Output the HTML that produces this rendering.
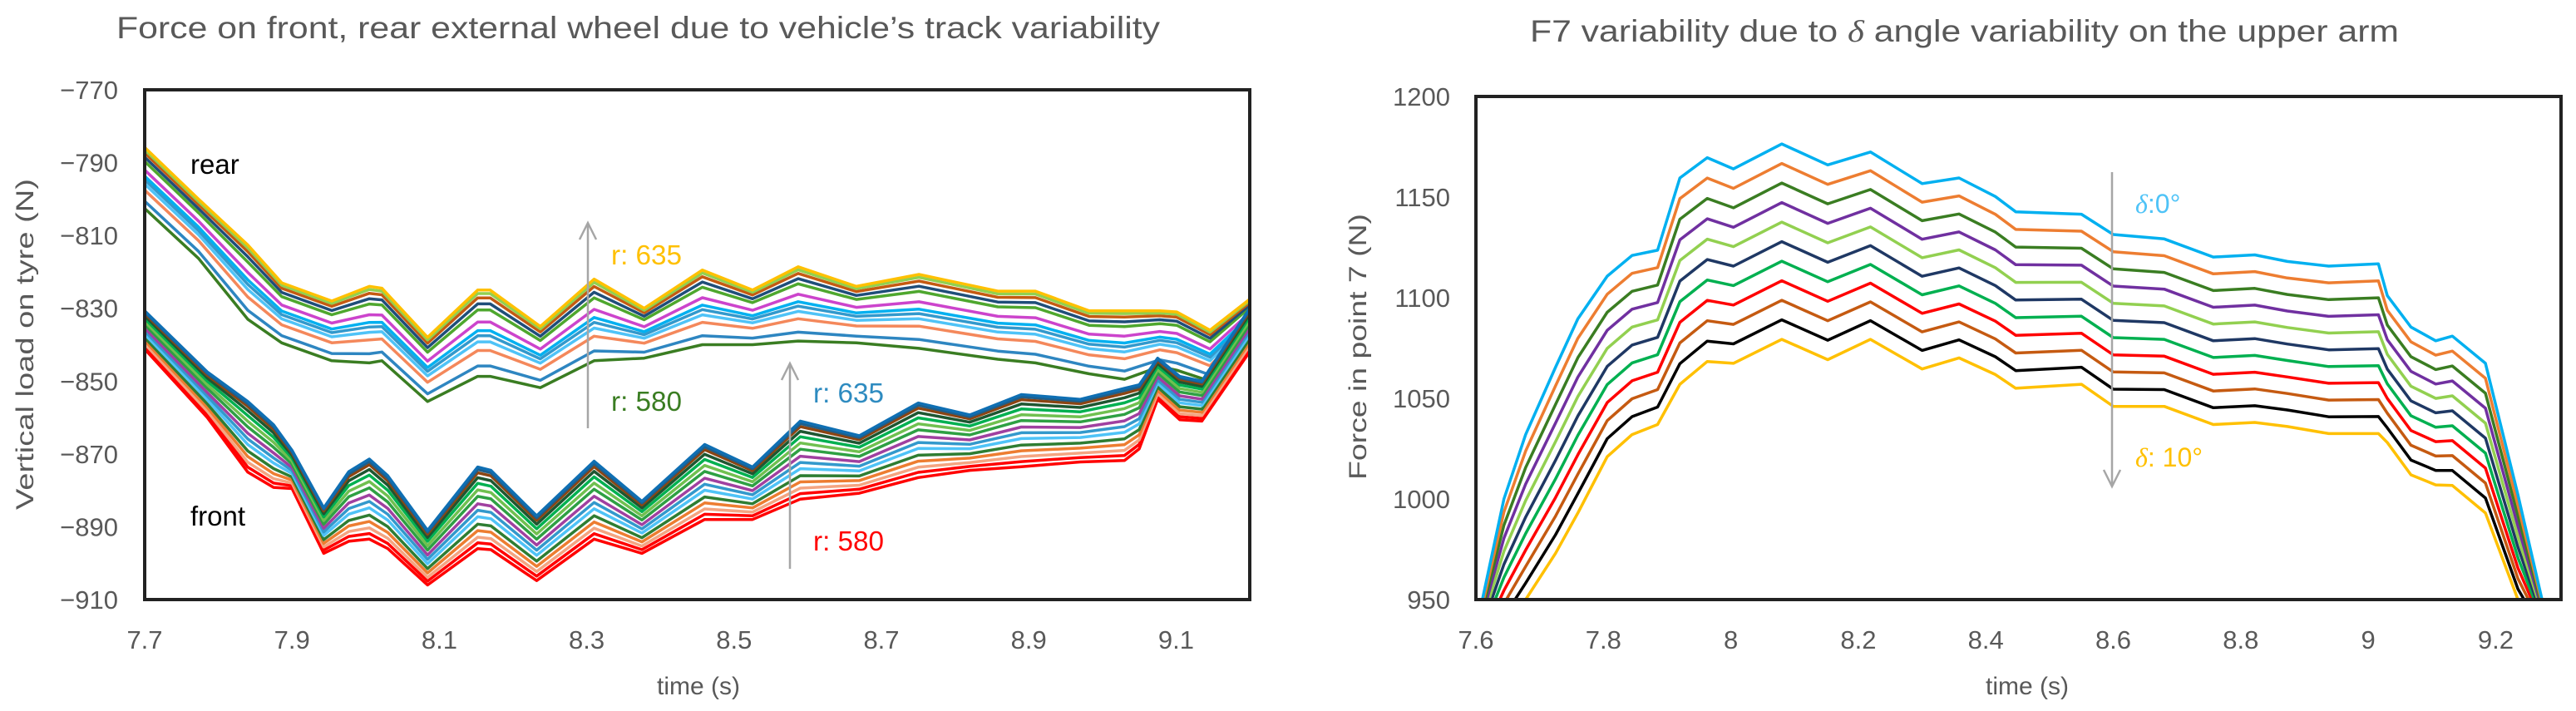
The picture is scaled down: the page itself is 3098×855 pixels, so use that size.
<!DOCTYPE html>
<html><head><meta charset="utf-8">
<style>
html,body{margin:0;padding:0;background:#fff;}
svg{display:block;font-family:"Liberation Sans",sans-serif;}
.tick{font-size:31px;fill:#595959;}
.ttl{font-size:37px;fill:#595959;}
.ax{font-size:30px;fill:#595959;}
</style></head>
<body>
<svg id="svg" width="3098" height="855" viewBox="0 0 3098 855" xmlns="http://www.w3.org/2000/svg">
<defs>
<clipPath id="clipL"><rect x="174" y="108" width="1329" height="613"/></clipPath>
<clipPath id="clipR"><rect x="1775" y="116" width="1305" height="605"/></clipPath>
</defs>
<rect width="3098" height="855" fill="#fff"/>
<text class="ttl" x="140" y="46" textLength="1255" lengthAdjust="spacingAndGlyphs">Force on front, rear external wheel due to vehicle’s track variability</text>
<text class="ttl" x="1840" y="50" textLength="1045" lengthAdjust="spacingAndGlyphs">F7 variability due to <tspan font-family="Liberation Serif,serif" font-style="italic">δ</tspan> angle variability on the upper arm</text>
<text class="ax" transform="translate(40,414) rotate(-90)" text-anchor="middle" textLength="398" lengthAdjust="spacingAndGlyphs">Vertical load on tyre (N)</text>
<text class="ax" x="840" y="835" text-anchor="middle" font-size="34">time (s)</text>
<text class="ax" transform="translate(1643,417) rotate(-90)" text-anchor="middle" textLength="320" lengthAdjust="spacingAndGlyphs">Force in point 7 (N)</text>
<text class="ax" x="2438" y="835" text-anchor="middle" font-size="34">time (s)</text>
<g id="L" clip-path="url(#clipL)"></g>
<g id="R" clip-path="url(#clipR)"></g>
<g id="ticks"></g>
<rect x="174" y="108" width="1329" height="613" fill="none" stroke="#222" stroke-width="4"/>
<rect x="1775" y="116" width="1305" height="605" fill="none" stroke="#222" stroke-width="4"/>
<g stroke="#a6a6a6" stroke-width="2.5" fill="none">
<path d="M707 515 L707 268 M697 288 L707 268 L717 288"/>
<path d="M950 684 L950 437 M940 457 L950 437 L960 457"/>
<path d="M2540 207 L2540 585 M2530 565 L2540 585 L2550 565"/>
</g>
<text x="229" y="209" font-size="33" fill="#000">rear</text>
<text x="229" y="632" font-size="33" fill="#000">front</text>
<text x="735" y="318" font-size="33" fill="#FFC000" textLength="85" lengthAdjust="spacingAndGlyphs">r: 635</text>
<text x="735" y="494" font-size="33" fill="#3A7D22" textLength="85" lengthAdjust="spacingAndGlyphs">r: 580</text>
<text x="978" y="484" font-size="33" fill="#2E8BC0" textLength="85" lengthAdjust="spacingAndGlyphs">r: 635</text>
<text x="978" y="662" font-size="33" fill="#FF0000" textLength="85" lengthAdjust="spacingAndGlyphs">r: 580</text>
<text x="2568" y="256" font-size="32" fill="#4FC3F7"><tspan font-family="Liberation Serif,serif" font-style="italic">δ</tspan>:0°</text>
<text x="2568" y="561" font-size="32" fill="#FFC000"><tspan font-family="Liberation Serif,serif" font-style="italic">δ</tspan>: 10°</text>
</svg>
<script>
// ---- left chart data ----
const rearTimes = [7.7,7.773,7.84,7.886,7.954,8.005,8.022,8.084,8.152,8.169,8.237,8.31,8.378,8.457,8.525,8.587,8.666,8.751,8.858,8.909,8.982,9.03,9.078,9.101,9.146,9.2];
const rearTop = [-785.8,-800,-812.6,-823,-828,-824,-824.5,-838,-825,-825,-835,-822,-830,-819.5,-825,-818.6,-824,-820.7,-825.3,-825.3,-830.7,-830.7,-830.7,-831,-836,-827.5];
const rearBottom = [-802.6,-816.3,-833,-839.5,-844.4,-845,-844.4,-855.6,-848.7,-848.7,-851.8,-844.4,-843.7,-840,-840,-839,-839.5,-841,-844,-845,-848,-849.5,-846,-847,-850,-837.5];
const rearWeights = [1,0.96,0.91,0.84,0.77,0.63,0.53,0.47,0.40,0.30,0.12,0];
const rearColors = ["#FFC000","#92D050","#C55A11","#1F4E79","#4EA72E","#CC44CC","#00B0F0","#3399CC","#4FC3F7","#F4885B","#2E86C1","#3A7D22"];
const frontTimes = [7.7,7.785,7.84,7.875,7.9,7.943,7.977,8.005,8.03,8.084,8.152,8.17,8.232,8.31,8.375,8.46,8.525,8.59,8.67,8.75,8.82,8.89,8.97,9.03,9.05,9.075,9.105,9.135,9.2];
const frontTop = [-830.7,-847.5,-855.6,-862,-869,-884.8,-874.9,-871.4,-876,-891,-873.6,-874.5,-887,-872,-883,-867.4,-873.6,-861,-865,-856,-859.3,-853.7,-855,-852,-851,-843.7,-848.7,-850,-830];
const frontBottom = [-841.2,-860,-875,-879.2,-879.5,-897.3,-894,-893.4,-896,-906,-896,-896.3,-904.8,-893.4,-897.3,-888,-888,-882.4,-880.8,-876.5,-874.5,-873.5,-872.2,-871.8,-868.6,-855,-860.6,-861,-841.9];
const frontWeights = [1,0.97,0.93,0.87,0.8,0.72,0.64,0.55,0.47,0.39,0.3,0.22,0.14,0.07,0];
const frontColors = ["#0F6FB3","#1F5F8B","#8B4513","#1E5631","#00B050","#70C050","#2EA043","#A040A0","#3399CC","#4FC3F7","#2E7D32","#ED7D31","#F4A582","#FF0000","#FF0000"];
const leftYTicks = [-770,-790,-810,-830,-850,-870,-890,-910];
const leftXTicks = ["7.7","7.9","8.1","8.3","8.5","8.7","8.9","9.1"];
// ---- right chart data ----
const rTimes = [7.6,7.644,7.678,7.725,7.76,7.806,7.845,7.885,7.92,7.963,8.004,8.08,8.152,8.219,8.3,8.358,8.415,8.447,8.55,8.6,8.68,8.757,8.822,8.873,8.938,9.016,9.03,9.067,9.106,9.132,9.184,9.235,9.28];
const rTop = [935,1000,1032,1065.5,1089.5,1110.7,1121,1123.6,1159.5,1169.6,1164,1176.4,1166,1172.4,1156.7,1159.5,1150.3,1142.7,1141.5,1131.4,1129.2,1120.2,1121.3,1118,1115.7,1116.8,1101,1085.4,1078.6,1080.9,1067.4,1002,940];
const rBottom = [920,935,950,973,993,1021,1032,1037,1057,1068.3,1067.4,1079.3,1069.2,1079.3,1064.6,1070.1,1061.8,1055,1057,1046,1046,1037,1038,1036,1032.5,1032.5,1028,1012,1007,1006.7,993,950,930];
const rWeights = [1,0.9,0.8,0.7,0.6,0.5,0.4,0.3,0.2,0.1,0];
const rColors = ["#00B0F0","#ED7D31","#3A7D22","#7030A0","#92D050","#1F3864","#00B050","#FF0000","#C55A11","#000000","#FFC000"];
const rightYTicks = [1200,1150,1100,1050,1000,950];
const rightXTicks = ["7.6","7.8","8","8.2","8.4","8.6","8.8","9","9.2"];

const NS="http://www.w3.org/2000/svg";
const xL = t => 174 + (t-7.7)/1.5*1329;
const yL = v => 108 + (-770 - v)/140*613;
const xR = t => 1775 + (t-7.6)/0.2*153.3;
const yR = v => 116 + (1200 - v)/250*605;

function drawGroup(gId, times, top, bot, weights, colors, xf, yf, prefix){
  const g=document.getElementById(gId);
  for(let k=weights.length-1;k>=0;k--){
    const w=weights[k];
    const d=times.map((t,i)=>(i?'L':'M')+xf(t).toFixed(1)+' '+yf(bot[i]+w*(top[i]-bot[i])).toFixed(1)).join(' ');
    const p=document.createElementNS(NS,'path');
    p.setAttribute('d',d);p.setAttribute('fill','none');
    p.setAttribute('stroke',colors[k]);p.setAttribute('stroke-width','3.5');
    p.setAttribute('stroke-linejoin','round');
    
    
    g.appendChild(p);
  }
}
drawGroup('L',rearTimes,rearTop,rearBottom,rearWeights,rearColors,xL,yL,'rear');
drawGroup('L',frontTimes,frontTop,frontBottom,frontWeights,frontColors,xL,yL,'front');
drawGroup('R',rTimes,rTop,rBottom,rWeights,rColors,xR,yR,'delta');

const tg=document.getElementById('ticks');
function txt(x,y,s,anchor,name){
  const e=document.createElementNS(NS,'text');
  e.setAttribute('x',x);e.setAttribute('y',y);e.setAttribute('text-anchor',anchor);
  e.setAttribute('class','tick');e.textContent=s;
  
  
  tg.appendChild(e);
}
leftYTicks.forEach(v=>txt(142,yL(v)+11,String(v).replace('-','−'),'end','left-y-tick'));
leftXTicks.forEach(s=>txt(xL(parseFloat(s)),780,s,'middle','left-x-tick'));
rightYTicks.forEach(v=>txt(1744,yR(v)+11,String(v),'end','right-y-tick'));
rightXTicks.forEach(s=>txt(xR(parseFloat(s)),780,s,'middle','right-x-tick'));
</script>
</body></html>
